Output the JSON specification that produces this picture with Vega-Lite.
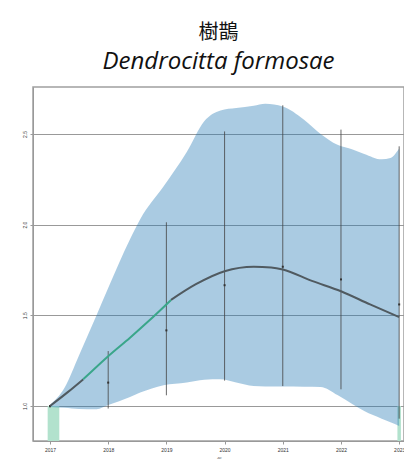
{
  "$schema": "https://vega.github.io/schema/vega-lite/v6.json",
  "autosize": "none",
  "width": 371,
  "height": 354,
  "padding": {"left": 33, "top": 87, "right": 0, "bottom": 18},
  "title": {
    "text": "樹鵲",
    "subtitle": "Dendrocitta formosae",
    "anchor": "middle",
    "font": "Noto Sans CJK TC",
    "fontSize": 20,
    "fontWeight": "normal",
    "color": "#111111",
    "subtitleFont": "Open Sans",
    "subtitleFontSize": 24,
    "subtitleFontStyle": "italic",
    "subtitleColor": "#111111",
    "subtitlePadding": 7,
    "offset": 13
  },
  "config": {
    "view": {"stroke": "#a0a0a0", "strokeWidth": 1.5},
    "axis": {"labelFontSize": 5, "labelColor": "#333333", "domainColor": "#999999", "tickColor": "#999999", "tickSize": 3, "titleFontSize": 5, "titleColor": "#999999"}
  },
  "datasets": {
    "band": [
      {"year": 2017.0, "lo": 0.995, "hi": 1.005},
      {"year": 2017.25, "lo": 0.99, "hi": 1.1},
      {"year": 2017.5, "lo": 0.983, "hi": 1.28},
      {"year": 2017.8, "lo": 0.982, "hi": 1.5},
      {"year": 2018.0, "lo": 1.005, "hi": 1.65},
      {"year": 2018.375, "lo": 1.05, "hi": 1.92},
      {"year": 2018.55, "lo": 1.074, "hi": 2.03},
      {"year": 2018.95, "lo": 1.115, "hi": 2.21},
      {"year": 2019.35, "lo": 1.13, "hi": 2.4},
      {"year": 2019.65, "lo": 1.145, "hi": 2.57},
      {"year": 2019.93, "lo": 1.147, "hi": 2.63},
      {"year": 2020.2, "lo": 1.13, "hi": 2.643},
      {"year": 2020.5, "lo": 1.11, "hi": 2.655},
      {"year": 2020.7, "lo": 1.108, "hi": 2.667},
      {"year": 2021.0, "lo": 1.107, "hi": 2.652},
      {"year": 2021.36, "lo": 1.106, "hi": 2.58},
      {"year": 2021.65, "lo": 1.105, "hi": 2.5},
      {"year": 2021.94, "lo": 1.06, "hi": 2.44},
      {"year": 2022.2, "lo": 1.01, "hi": 2.414},
      {"year": 2022.4, "lo": 0.972, "hi": 2.39},
      {"year": 2022.7, "lo": 0.93, "hi": 2.36},
      {"year": 2022.85, "lo": 0.91, "hi": 2.368},
      {"year": 2023.0, "lo": 0.89, "hi": 2.42}
    ],
    "trend": [
      {"year": 2017.0, "index": 1.0, "seg": "ns", "part": "a"},
      {"year": 2017.3, "index": 1.075, "seg": "ns", "part": "a"},
      {"year": 2017.57, "index": 1.147, "seg": "ns", "part": "a"},
      {"year": 2017.57, "index": 1.147, "seg": "sig", "part": "b"},
      {"year": 2018.0, "index": 1.275, "seg": "sig", "part": "b"},
      {"year": 2018.375, "index": 1.377, "seg": "sig", "part": "b"},
      {"year": 2018.7, "index": 1.47, "seg": "sig", "part": "b"},
      {"year": 2019.08, "index": 1.585, "seg": "sig", "part": "b"},
      {"year": 2019.08, "index": 1.585, "seg": "ns", "part": "c"},
      {"year": 2019.5, "index": 1.67, "seg": "ns", "part": "c"},
      {"year": 2020.0, "index": 1.743, "seg": "ns", "part": "c"},
      {"year": 2020.5, "index": 1.768, "seg": "ns", "part": "c"},
      {"year": 2020.8, "index": 1.764, "seg": "ns", "part": "c"},
      {"year": 2021.0, "index": 1.753, "seg": "ns", "part": "c"},
      {"year": 2021.5, "index": 1.69, "seg": "ns", "part": "c"},
      {"year": 2022.0, "index": 1.633, "seg": "ns", "part": "c"},
      {"year": 2022.5, "index": 1.56, "seg": "ns", "part": "c"},
      {"year": 2023.0, "index": 1.49, "seg": "ns", "part": "c"}
    ],
    "obs": [
      {"year": 2017, "index": 1.0, "lo": 0.99, "hi": 1.005},
      {"year": 2018, "index": 1.129, "lo": 0.986, "hi": 1.303},
      {"year": 2019, "index": 1.417, "lo": 1.059, "hi": 2.013},
      {"year": 2020, "index": 1.666, "lo": 1.14, "hi": 2.514},
      {"year": 2021, "index": 1.768, "lo": 1.11, "hi": 2.658},
      {"year": 2022, "index": 1.698, "lo": 1.092, "hi": 2.524},
      {"year": 2023, "index": 1.56, "lo": 0.93, "hi": 2.432}
    ],
    "sig": [
      {"start": 2016.96, "end": 2017.16, "top": 1.0, "bottom": 0.807},
      {"start": 2022.97, "end": 2023.03, "top": 1.0, "bottom": 0.807}
    ]
  },
  "layer": [
    {
      "data": {"name": "sig"},
      "mark": {"type": "rect", "color": "#b2e2cd", "clip": true},
      "encoding": {
        "x": {"field": "start", "type": "quantitative", "scale": {"domain": [2016.708, 2023.083], "nice": false, "zero": false},
              "axis": {"values": [2017, 2018, 2019, 2020, 2021, 2022, 2023], "format": "d", "grid": false, "title": "年", "titlePadding": 4, "labelPadding": 3}},
        "x2": {"field": "end"},
        "y": {"field": "top", "type": "quantitative", "scale": {"domain": [0.807, 2.759], "nice": false, "zero": false},
              "axis": {"values": [1.0, 1.5, 2.0, 2.5], "format": ".1f", "grid": true, "gridColor": "#999999", "gridWidth": 1, "labelAngle": -90, "labelAlign": "center", "labelBaseline": "bottom", "labelPadding": 3, "title": null}},
        "y2": {"field": "bottom"}
      }
    },
    {
      "data": {"name": "band"},
      "mark": {"type": "area", "color": "#1f77b4", "opacity": 0.38, "interpolate": "monotone"},
      "encoding": {
        "x": {"field": "year", "type": "quantitative"},
        "y": {"field": "lo", "type": "quantitative"},
        "y2": {"field": "hi"}
      }
    },
    {
      "data": {"name": "obs"},
      "mark": {"type": "rule", "color": "#444444", "strokeWidth": 1, "opacity": 0.8},
      "encoding": {
        "x": {"field": "year", "type": "quantitative"},
        "y": {"field": "lo", "type": "quantitative"},
        "y2": {"field": "hi"}
      }
    },
    {
      "data": {"name": "obs"},
      "mark": {"type": "square", "color": "#333333", "size": 4, "filled": true, "opacity": 1},
      "encoding": {
        "x": {"field": "year", "type": "quantitative"},
        "y": {"field": "index", "type": "quantitative"}
      }
    },
    {
      "data": {"name": "trend"},
      "mark": {"type": "line", "strokeWidth": 2, "interpolate": "monotone"},
      "encoding": {
        "x": {"field": "year", "type": "quantitative"},
        "y": {"field": "index", "type": "quantitative"},
        "color": {"field": "seg", "type": "nominal", "scale": {"domain": ["ns", "sig"], "range": ["#505a60", "#3aa68a"]}, "legend": null},
        "detail": {"field": "part"}
      }
    }
  ]
}
